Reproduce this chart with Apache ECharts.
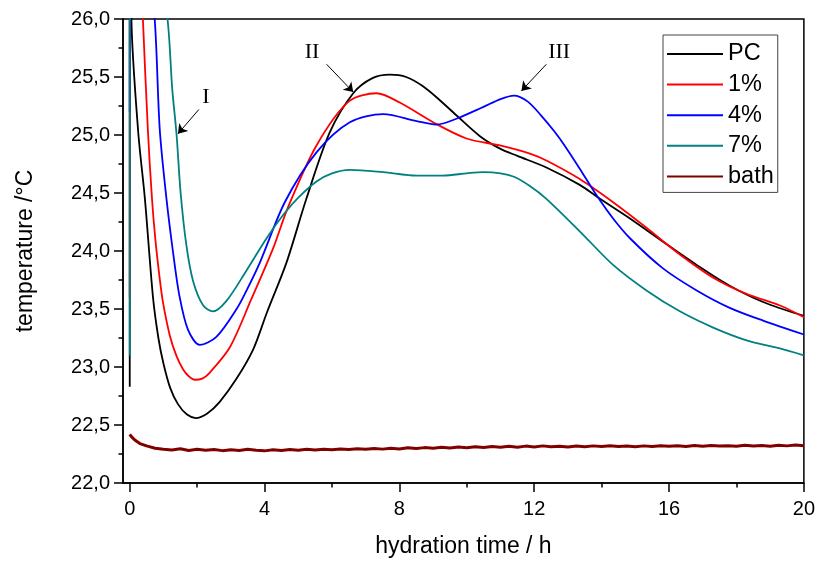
<!DOCTYPE html>
<html>
<head>
<meta charset="utf-8">
<script src="https://cdn.jsdelivr.net/npm/echarts@6.0.0/dist/echarts.min.js"></script>
<style>html,body{margin:0;padding:0;background:#fff}#chart{width:818px;height:563px}</style>
</head>
<body>
<div id="chart"></div>
<script>
// ---- data (hydration time in h, temperature in °C) ----
const seriesNames = ['PC', '1%', '4%', '7%', 'bath'];
const xMajorTicks = [0, 4, 8, 12, 16, 20];
const xMinorTicks = [2, 6, 10, 14, 18];

const pcData = [[0,22.83],[0.01,28.5],[0.05,26.0],[0.25,25.03],[0.45,24.45],[0.69,23.6],[0.85,23.25],[1.0,23.03],[1.2,22.82],
  [1.43,22.68],[1.7,22.59],[1.96,22.56],[2.3,22.6],[2.67,22.7],[3.17,22.9],[3.66,23.15],[4.07,23.47],[4.65,23.9],[5.24,24.45],
  [5.93,25.02],[6.63,25.36],[7.2,25.49],[7.72,25.52],[8.2,25.5],[8.7,25.42],[9.2,25.3],[9.69,25.17],[10.39,24.99],[11.0,24.88],
  [11.5,24.82],[12.36,24.72],[13.35,24.57],[13.95,24.45],[14.84,24.28],[15.82,24.08],[16.82,23.88],[17.8,23.7],[18.79,23.56],[20,23.44]];

const pc1Data = [[0,23.6],[0.01,28.5],[0.39,26.0],[0.54,25.03],[0.66,24.45],[0.76,24.1],[0.89,23.76],[0.99,23.55],[1.19,23.27],
  [1.38,23.1],[1.58,22.98],[1.75,22.92],[1.93,22.89],[2.15,22.9],[2.37,22.95],[2.97,23.17],[3.6,23.58],[4.25,24.02],[4.7,24.38],
  [5.54,24.91],[6.5,25.29],[7.32,25.36],[8.01,25.28],[9.0,25.11],[9.99,24.97],[10.98,24.91],[11.87,24.84],[12.36,24.78],
  [13.35,24.62],[14.34,24.42],[15.33,24.2],[16.32,23.97],[17.31,23.77],[18.3,23.63],[19.29,23.53],[20,23.43]];

const pc4Data = [[0,25.2],[0.01,28.5],[0.74,26.0],[0.89,25.05],[1.09,24.45],[1.28,24.0],[1.47,23.62],[1.73,23.32],[2.08,23.19],
  [2.57,23.26],[3.17,23.5],[3.5,23.68],[3.86,23.9],[4.6,24.42],[5.54,24.85],[6.53,25.11],[7.52,25.18],[8.51,25.12],
  [9.1,25.09],[9.69,25.14],[10.48,25.24],[11.0,25.31],[11.4,25.34],[11.8,25.29],[12.2,25.17],[12.6,25.03],[12.9,24.91],
  [13.35,24.71],[13.85,24.48],[14.34,24.28],[14.84,24.11],[15.82,23.85],[16.82,23.66],[17.8,23.51],[18.79,23.4],[20,23.28]];

const pc7Data = [[0,23.1],[0.01,28.5],[1.12,26.0],[1.26,25.4],[1.39,25.0],[1.51,24.5],[1.68,24.05],[1.88,23.74],[2.18,23.53],
  [2.47,23.48],[2.87,23.57],[3.46,23.83],[4.06,24.11],[4.55,24.31],[5.0,24.46],[5.54,24.6],[6.0,24.67],[6.53,24.7],
  [7.52,24.68],[8.51,24.65],[9.3,24.65],[10.0,24.67],[10.48,24.68],[11.0,24.67],[11.4,24.64],[11.87,24.56],[12.36,24.45],
  [13.35,24.17],[14.34,23.88],[15.33,23.66],[16.32,23.48],[17.31,23.34],[18.3,23.23],[19.29,23.16],[20,23.1]];

const bathData = [[0,22.42],[0.05,22.40],[0.15,22.37],[0.3,22.34],[0.5,22.32],[0.75,22.30],[1.0,22.29],
  [1.25,22.285],[1.5,22.295],[1.75,22.28],[2.0,22.29],[2.25,22.283],[2.5,22.288],[2.75,22.279],[3.0,22.286],
  [3.25,22.28],[3.5,22.29],[3.75,22.282],[4.0,22.277],[4.25,22.286],[4.5,22.281],[4.75,22.289],[5.0,22.283],
  [5.25,22.291],[5.5,22.284],[5.75,22.29],[6.0,22.286],[6.25,22.294],[6.5,22.288],[6.75,22.295],[7.0,22.29],
  [7.25,22.298],[7.5,22.292],[7.75,22.30],[8.0,22.294],[8.25,22.303],[8.5,22.297],[8.75,22.305],[9.0,22.30],
  [9.25,22.308],[9.5,22.301],[9.75,22.31],[10.0,22.304],[10.25,22.312],[10.5,22.306],[10.75,22.315],[11.0,22.309],
  [11.25,22.316],[11.5,22.308],[11.75,22.318],[12.0,22.311],[12.25,22.32],[12.5,22.312],[12.75,22.317],[13.0,22.31],
  [13.25,22.319],[13.5,22.313],[13.75,22.32],[14.0,22.314],[14.25,22.321],[14.5,22.315],[14.75,22.319],[15.0,22.312],
  [15.25,22.32],[15.5,22.314],[15.75,22.322],[16.0,22.316],[16.25,22.321],[16.5,22.315],[16.75,22.323],[17.0,22.317],
  [17.25,22.324],[17.5,22.318],[17.75,22.322],[18.0,22.316],[18.25,22.325],[18.5,22.319],[18.75,22.323],[19.0,22.317],
  [19.25,22.326],[19.5,22.32],[19.75,22.328],[20.0,22.322]];

// annotations (data coordinates)
const annoLabels = [{name:'I', coord:[2.26,25.33]}, {name:'II', coord:[5.41,25.71]}, {name:'III', coord:[12.74,25.71]}];
const annoArrows = [[[2.05,25.22],[1.43,25.01]], [[5.84,25.61],[6.63,25.37]], [[12.36,25.61],[11.62,25.38]]];

const colors = ['#000000', '#ff0000', '#0000ff', '#008080', '#800000'];
const allData = [pcData, pc1Data, pc4Data, pc7Data, bathData];

const font = 'Liberation Sans, Arial, sans-serif';
const chart = echarts.init(document.getElementById('chart'), null, {renderer: 'canvas'});

const series = seriesNames.map((n, i) => ({
  name: n,
  type: 'line',
  data: allData[i],
  showSymbol: false,
  symbol: 'none',
  smooth: i === 4 ? false : 0.3,
  clip: true,
  lineStyle: {color: colors[i], width: i === 4 ? 3 : 1.8},
  itemStyle: {color: colors[i]},
  z: 2 + i,
  animation: false
}));

series.push({
  name: 'annotations',
  type: 'line',
  data: [],
  silent: true,
  animation: false,
  markLine: {
    silent: true,
    animation: false,
    symbol: ['none', 'arrow'],
    symbolSize: 9,
    label: {show: false},
    lineStyle: {color: '#000', width: 1, type: 'solid'},
    data: annoArrows.map(a => [{coord: a[0]}, {coord: a[1]}])
  },
  markPoint: {
    silent: true,
    animation: false,
    symbol: 'rect',
    symbolSize: 1,
    itemStyle: {color: 'rgba(0,0,0,0)'},
    label: {show: true, position: 'inside', formatter: '{b}', color: '#000',
            fontFamily: 'Liberation Serif, Times New Roman, serif', fontSize: 22},
    data: annoLabels.map(a => ({name: a.name, coord: a.coord}))
  }
});

chart.setOption({
  backgroundColor: '#fff',
  animation: false,
  grid: {left: 123, right: 14, top: 19, bottom: 76, show: true, borderColor: '#000', borderWidth: 1.5, backgroundColor: 'transparent'},
  legend: {
    data: seriesNames,
    orient: 'vertical',
    left: 663, top: 35,
    itemWidth: 56, itemHeight: 14,
    itemGap: 4.6,
    padding: [6, 4, 3, 4],
    borderColor: '#444', borderWidth: 1,
    backgroundColor: '#fff',
    textStyle: {fontFamily: font, fontSize: 23.5, color: '#000', lineHeight: 26},
    icon: 'path://M0,0 L56,0 L56,2 L0,2 Z'
  },
  xAxis: [{
    type: 'value', min: -0.2, max: 20,
    name: 'hydration time / h', nameLocation: 'middle', nameGap: 52,
    nameTextStyle: {fontFamily: font, fontSize: 23, color: '#000'},
    axisLine: {show: true, onZero: false, lineStyle: {color: '#000', width: 1.5}},
    axisTick: {show: true, inside: false, length: 9, customValues: xMajorTicks, lineStyle: {color: '#000', width: 1.5}},
    axisLabel: {show: true, margin: 16, customValues: xMajorTicks, fontFamily: font, fontSize: 20, color: '#000',
                formatter: v => String(v)},
    splitLine: {show: false}
  }, {
    type: 'value', min: -0.2, max: 20, position: 'bottom', gridIndex: 0,
    axisLine: {show: false, onZero: false},
    axisTick: {show: true, inside: false, length: 4.5, customValues: xMinorTicks, lineStyle: {color: '#000', width: 1.5}},
    axisLabel: {show: false},
    splitLine: {show: false}
  }],
  yAxis: {
    type: 'value', min: 22, max: 26, interval: 0.5,
    name: 'temperature /°C', nameLocation: 'middle', nameGap: 86,
    nameTextStyle: {fontFamily: font, fontSize: 23, color: '#000'},
    axisLine: {show: true, onZero: false, lineStyle: {color: '#000', width: 1.5}},
    axisTick: {show: true, inside: false, length: 9, lineStyle: {color: '#000', width: 1.5}},
    minorTick: {show: true, splitNumber: 2, length: 4.5, lineStyle: {color: '#000', width: 1.5}},
    axisLabel: {margin: 13, fontFamily: font, fontSize: 20, color: '#000',
                formatter: v => v.toFixed(1).replace('.', ',')},
    splitLine: {show: false}
  },
  series: series
});
</script>
</body>
</html>
